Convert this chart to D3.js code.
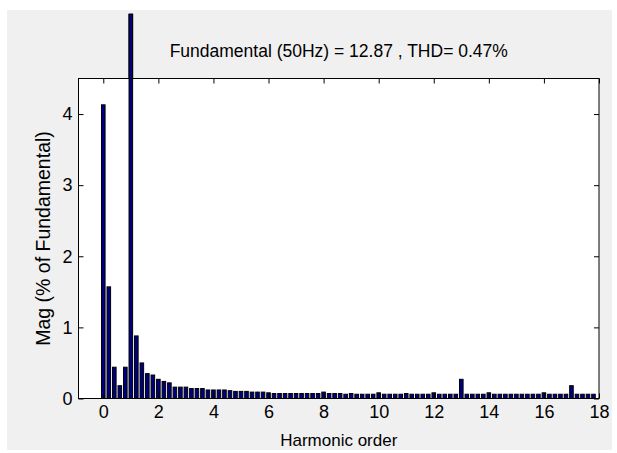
<!DOCTYPE html>
<html lang="en">
<head>
    <meta charset="UTF-8">
    <title>FFT analysis</title>
    <script src="https://cdn.jsdelivr.net/npm/d3@7"></script>
    <style>
        body { margin: 0; background: #fff; }
        text { font-family: "Liberation Sans", Arial, sans-serif; }
    </style>
</head>
<body>
<script type="text/javascript">
    // harmonic order of each bar (10 Hz bins, fundamental = 50 Hz)
    var harmonicOrder = [
        0, 0.2, 0.4, 0.6, 0.8, 1, 1.2, 1.4, 1.6, 1.8,
        2, 2.2, 2.4, 2.6, 2.8, 3, 3.2, 3.4, 3.6, 3.8,
        4, 4.2, 4.4, 4.6, 4.8, 5, 5.2, 5.4, 5.6, 5.8,
        6, 6.2, 6.4, 6.6, 6.8, 7, 7.2, 7.4, 7.6, 7.8,
        8, 8.2, 8.4, 8.6, 8.8, 9, 9.2, 9.4, 9.6, 9.8,
        10, 10.2, 10.4, 10.6, 10.8, 11, 11.2, 11.4, 11.6, 11.8,
        12, 12.2, 12.4, 12.6, 12.8, 13, 13.2, 13.4, 13.6, 13.8,
        14, 14.2, 14.4, 14.6, 14.8, 15, 15.2, 15.4, 15.6, 15.8,
        16, 16.2, 16.4, 16.6, 16.8, 17, 17.2, 17.4, 17.6, 17.8
    ];
    // magnitude, % of fundamental
    var magnitude = [
        4.13, 1.57, 0.44, 0.18, 0.44, 100, 0.88, 0.50, 0.35, 0.33,
        0.27, 0.24, 0.22, 0.16, 0.16, 0.16, 0.14, 0.14, 0.14, 0.12,
        0.12, 0.12, 0.12, 0.11, 0.10, 0.10, 0.10, 0.09, 0.09, 0.09,
        0.08, 0.07, 0.07, 0.07, 0.07, 0.07, 0.07, 0.07, 0.07, 0.07,
        0.09, 0.07, 0.07, 0.07, 0.06, 0.07, 0.06, 0.06, 0.06, 0.06,
        0.08, 0.06, 0.06, 0.06, 0.06, 0.07, 0.06, 0.06, 0.06, 0.06,
        0.08, 0.06, 0.06, 0.06, 0.06, 0.27, 0.06, 0.06, 0.06, 0.06,
        0.08, 0.06, 0.06, 0.06, 0.06, 0.06, 0.06, 0.06, 0.06, 0.06,
        0.08, 0.06, 0.06, 0.06, 0.06, 0.18, 0.06, 0.06, 0.06, 0.06
    ];
    var xTicks = [0, 2, 4, 6, 8, 10, 12, 14, 16, 18];
    var yTicks = [0, 1, 2, 3, 4];
    var title = "Fundamental (50Hz) = 12.87 , THD= 0.47%";

    var width = 617;
    var height = 453;
    var box = {left: 78.5, right: 599, top: 78.5, bottom: 398.5};

    var svg = d3.select('body').append('svg')
            .attr('width', width)
            .attr('height', height);

    // figure background
    svg.append("rect")
            .attr("x", 7).attr("y", 10)
            .attr("width", 605).attr("height", 440)
            .attr("fill", "#f0f0f0");

    svg.append("rect")
            .attr("x", box.left).attr("y", box.top)
            .attr("width", box.right - box.left).attr("height", box.bottom - box.top)
            .attr("fill", "#fff");

    var xScale = d3.scaleLinear()
            .domain([-0.9, 18])
            .range([box.left, box.right]);
    var yScale = d3.scaleLinear()
            .domain([0, 4.5])
            .range([box.bottom, box.top]);

    var barWidth = (xScale(0.2) - xScale(0)) * 0.65;

    // the fundamental bar runs past the top of the axes
    svg.append("clipPath").attr("id", "clip")
            .append("rect")
            .attr("x", box.left).attr("y", 14)
            .attr("width", box.right - box.left).attr("height", box.bottom - 14);

    svg.append("g")
            .attr("clip-path", "url(#clip)")
            .selectAll("rect")
            .data(magnitude)
            .enter()
            .append("rect")
            .attr("x", function (d, i) {
                return xScale(harmonicOrder[i]) - barWidth / 2;
            })
            .attr("y", function (d) {
                return yScale(d);
            })
            .attr("width", barWidth)
            .attr("height", function (d) {
                return box.bottom - yScale(d);
            })
            .attr("fill", "#00007f")
            .attr("stroke", "#000")
            .attr("stroke-width", 1);

    function styleAxis(g) {
        g.select(".domain").remove();
        g.selectAll("line").attr("stroke", "#000");
        g.selectAll("text")
                .attr("font-size", "18px")
                .attr("fill", "#000")
                .style("font-family", "'Liberation Sans', Arial, sans-serif");
    }

    svg.append("g")
            .attr("transform", "translate(0," + box.bottom + ")")
            .call(d3.axisBottom(xScale).tickValues(xTicks).tickSize(-5).tickPadding(7))
            .call(styleAxis);
    svg.append("g")
            .attr("transform", "translate(0," + box.top + ")")
            .call(d3.axisTop(xScale).tickValues(xTicks).tickSize(-5).tickFormat(""))
            .call(styleAxis);
    svg.append("g")
            .attr("transform", "translate(" + box.left + ",0)")
            .call(d3.axisLeft(yScale).tickValues(yTicks).tickSize(-5).tickPadding(6)
                    .tickFormat(d3.format("d")))
            .call(styleAxis);
    svg.append("g")
            .attr("transform", "translate(" + box.right + ",0)")
            .call(d3.axisRight(yScale).tickValues(yTicks).tickSize(-5).tickFormat(""))
            .call(styleAxis);

    // axes box
    svg.append("rect")
            .attr("x", box.left).attr("y", box.top)
            .attr("width", box.right - box.left).attr("height", box.bottom - box.top)
            .attr("fill", "none")
            .attr("stroke", "#000");

    // fundamental bar drawn again above the box line
    svg.append("rect")
            .attr("x", xScale(harmonicOrder[5]) - barWidth / 2)
            .attr("y", 14)
            .attr("width", barWidth)
            .attr("height", box.top - 14)
            .attr("fill", "#00007f")
            .attr("stroke", "#000");

    svg.append("text")
            .attr("x", (box.left + box.right) / 2)
            .attr("y", 57)
            .attr("text-anchor", "middle")
            .attr("font-size", "17.5px")
            .text(title);

    svg.append("text")
            .attr("x", (box.left + box.right) / 2)
            .attr("y", 446)
            .attr("text-anchor", "middle")
            .attr("font-size", "17px")
            .text("Harmonic order");

    svg.append("text")
            .attr("transform", "translate(50," + (box.top + box.bottom) / 2 + ") rotate(-90)")
            .attr("text-anchor", "middle")
            .attr("font-size", "19.5px")
            .text("Mag (% of Fundamental)");
</script>
</body>
</html>
